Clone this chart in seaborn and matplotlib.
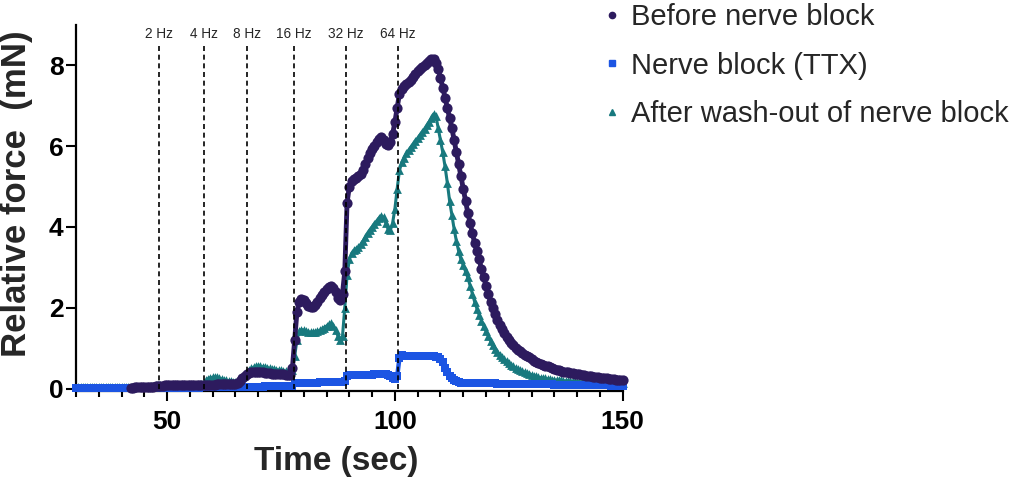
import numpy as np
import matplotlib
matplotlib.use("Agg")
import matplotlib.pyplot as plt
from matplotlib.lines import Line2D
from matplotlib.ticker import MultipleLocator
import seaborn as sns

# ------------------------------------------------------------------
# DATA (0.5 s sampling)
# ------------------------------------------------------------------
t_before = np.arange(42.0, 150.01, 0.5)
t_ttx = np.arange(30.0, 150.01, 0.5)
t_after = np.arange(30.0, 150.01, 0.5)

before_block = [
    0.02, 0.02, 0.03, 0.03, 0.03, 0.04,                                # 42
    0.04, 0.04, 0.05, 0.05, 0.05, 0.06, 0.06, 0.07, 0.07, 0.08,        # 45
    0.08, 0.08, 0.08, 0.08, 0.08, 0.08, 0.08, 0.08, 0.08, 0.08,        # 50
    0.08, 0.08, 0.09, 0.09, 0.09, 0.10, 0.10, 0.10, 0.10, 0.10,        # 55
    0.10, 0.10, 0.11, 0.11, 0.11, 0.11, 0.11, 0.11, 0.11, 0.12,        # 60
    0.12, 0.14, 0.18, 0.25, 0.30, 0.35, 0.38, 0.40, 0.41, 0.41,        # 65
    0.41, 0.40, 0.40, 0.39, 0.38, 0.38, 0.37, 0.37, 0.36, 0.36,        # 70
    0.35, 0.35, 0.34, 0.34, 0.33, 0.50, 1.20, 1.90, 2.15, 2.22,        # 75
    2.20, 2.12, 2.05, 2.02, 2.02, 2.08, 2.15, 2.25, 2.32, 2.40,        # 80
    2.47, 2.52, 2.55, 2.50, 2.38, 2.25, 2.20, 2.35, 2.90, 4.60,        # 85
    5.00, 5.15, 5.20, 5.22, 5.25, 5.30, 5.40, 5.55, 5.70, 5.82,        # 90
    5.92, 6.00, 6.10, 6.18, 6.22, 6.15, 6.05, 6.03, 6.10, 6.30,        # 95
    6.60, 6.95, 7.30, 7.42, 7.50, 7.55, 7.60, 7.65, 7.72, 7.78,        # 100
    7.85, 7.90, 7.95, 8.00, 8.05, 8.10, 8.15, 8.17, 8.05, 7.90,        # 105
    7.70, 7.45, 7.20, 6.95, 6.70, 6.45, 6.15, 5.85, 5.55, 5.25,        # 110
    4.95, 4.65, 4.35, 4.10, 3.85, 3.60, 3.40, 3.20, 2.95, 2.75,        # 115
    2.55, 2.35, 2.15, 2.00, 1.85, 1.70, 1.58, 1.47, 1.37, 1.28,        # 120
    1.20, 1.13, 1.07, 1.01, 0.96, 0.92, 0.88, 0.84, 0.80, 0.77,        # 125
    0.72, 0.69, 0.66, 0.63, 0.61, 0.59, 0.57, 0.55, 0.53, 0.51,        # 130
    0.49, 0.47, 0.45, 0.43, 0.42, 0.41, 0.40, 0.39, 0.38, 0.37,        # 135
    0.36, 0.35, 0.34, 0.33, 0.32, 0.31, 0.30, 0.29, 0.28, 0.28,        # 140
    0.27, 0.26, 0.25, 0.25, 0.24, 0.23, 0.23, 0.22, 0.22, 0.21,        # 145
    0.21,                                                              # 150
]

nerve_block = [
    0.02, 0.02, 0.02, 0.02, 0.02, 0.02, 0.02, 0.02, 0.02, 0.02,        # 30
    0.02, 0.02, 0.02, 0.02, 0.02, 0.02, 0.02, 0.02, 0.02, 0.02,        # 35
    0.02, 0.02, 0.02, 0.02, 0.02, 0.02, 0.02, 0.02, 0.02, 0.02,        # 40
    0.02, 0.02, 0.02, 0.02, 0.02, 0.02, 0.02, 0.02, 0.02, 0.02,        # 45
    0.02, 0.02, 0.02, 0.02, 0.02, 0.02, 0.02, 0.02, 0.02, 0.02,        # 50
    0.02, 0.02, 0.02, 0.02, 0.02, 0.03, 0.03, 0.03, 0.03, 0.03,        # 55
    0.03, 0.03, 0.03, 0.03, 0.03, 0.03, 0.03, 0.03, 0.03, 0.03,        # 60
    0.03, 0.04, 0.05, 0.05, 0.05, 0.05, 0.05, 0.05, 0.05, 0.05,        # 65
    0.05, 0.05, 0.05, 0.06, 0.06, 0.06, 0.06, 0.06, 0.06, 0.06,        # 70
    0.06, 0.06, 0.06, 0.06, 0.06, 0.07, 0.13, 0.15, 0.15, 0.15,        # 75
    0.15, 0.15, 0.15, 0.15, 0.15, 0.15, 0.15, 0.16, 0.16, 0.16,        # 80
    0.16, 0.16, 0.16, 0.17, 0.17, 0.17, 0.17, 0.17, 0.19, 0.30,        # 85
    0.33, 0.33, 0.33, 0.33, 0.33, 0.33, 0.34, 0.34, 0.34, 0.34,        # 90
    0.34, 0.35, 0.35, 0.35, 0.35, 0.35, 0.35, 0.34, 0.30, 0.26,        # 95
    0.24, 0.30, 0.76, 0.82, 0.81, 0.80, 0.80, 0.80, 0.80, 0.80,        # 100
    0.80, 0.80, 0.80, 0.80, 0.80, 0.80, 0.80, 0.80, 0.79, 0.78,        # 105
    0.74, 0.65, 0.52, 0.40, 0.31, 0.25, 0.21, 0.18, 0.16, 0.15,        # 110
    0.14, 0.14, 0.13, 0.13, 0.13, 0.13, 0.13, 0.13, 0.13, 0.13,        # 115
    0.13, 0.13, 0.13, 0.13, 0.13, 0.12, 0.12, 0.12, 0.12, 0.12,        # 120
    0.12, 0.12, 0.12, 0.12, 0.12, 0.12, 0.12, 0.12, 0.12, 0.12,        # 125
    0.11, 0.11, 0.11, 0.11, 0.11, 0.11, 0.11, 0.11, 0.11, 0.11,        # 130
    0.10, 0.10, 0.10, 0.10, 0.10, 0.10, 0.10, 0.10, 0.10, 0.10,        # 135
    0.09, 0.09, 0.09, 0.09, 0.09, 0.09, 0.09, 0.09, 0.09, 0.09,        # 140
    0.08, 0.08, 0.08, 0.08, 0.08, 0.07, 0.07, 0.07, 0.07, 0.07,        # 145
    0.07,                                                              # 150
]

after_washout = [
    0.03, 0.03, 0.03, 0.03, 0.03, 0.03, 0.03, 0.03, 0.03, 0.03,        # 30
    0.03, 0.03, 0.03, 0.03, 0.03, 0.03, 0.03, 0.03, 0.03, 0.03,        # 35
    0.04, 0.04, 0.04, 0.04, 0.04, 0.04, 0.04, 0.04, 0.04, 0.04,        # 40
    0.05, 0.05, 0.05, 0.06, 0.07, 0.08, 0.09, 0.09, 0.10, 0.10,        # 45
    0.10, 0.10, 0.10, 0.10, 0.10, 0.10, 0.10, 0.10, 0.10, 0.10,        # 50
    0.10, 0.10, 0.10, 0.10, 0.10, 0.11, 0.15, 0.20, 0.24, 0.27,        # 55
    0.28, 0.29, 0.28, 0.26, 0.24, 0.22, 0.20, 0.19, 0.18, 0.17,        # 60
    0.16, 0.16, 0.20, 0.28, 0.35, 0.42, 0.47, 0.50, 0.53, 0.55,        # 65
    0.56, 0.55, 0.54, 0.53, 0.52, 0.50, 0.49, 0.48, 0.47, 0.46,        # 70
    0.45, 0.44, 0.43, 0.43, 0.43, 0.46, 0.80, 1.20, 1.42, 1.46,        # 75
    1.45, 1.42, 1.40, 1.40, 1.40, 1.41, 1.42, 1.44, 1.47, 1.51,        # 80
    1.55, 1.59, 1.62, 1.55, 1.45, 1.30, 1.20, 1.30, 2.00, 2.80,        # 85
    3.20, 3.35, 3.42, 3.46, 3.50, 3.57, 3.65, 3.75, 3.85, 3.93,        # 90
    4.00, 4.08, 4.15, 4.22, 4.28, 4.24, 4.10, 3.95, 3.92, 4.10,        # 95
    4.45, 4.95, 5.40, 5.60, 5.72, 5.82, 5.90, 5.98, 6.05, 6.13,        # 100
    6.20, 6.28, 6.35, 6.43, 6.52, 6.60, 6.70, 6.80, 6.75, 6.45,        # 105
    6.15, 5.85, 5.50, 5.10, 4.65, 4.30, 3.95, 3.65, 3.40, 3.20,        # 110
    3.05, 2.90, 2.75, 2.55, 2.35, 2.15, 1.98, 1.82, 1.68, 1.55,        # 115
    1.42, 1.30, 1.18, 1.08, 0.99, 0.91, 0.84, 0.78, 0.73, 0.68,        # 120
    0.63, 0.59, 0.55, 0.51, 0.48, 0.45, 0.43, 0.41, 0.39, 0.37,        # 125
    0.34, 0.32, 0.30, 0.28, 0.27, 0.26, 0.25, 0.24, 0.23, 0.22,        # 130
    0.21, 0.21, 0.20, 0.20, 0.19, 0.19, 0.18, 0.18, 0.18, 0.17,        # 135
    0.17, 0.17, 0.16, 0.16, 0.16, 0.16, 0.15, 0.15, 0.15, 0.15,        # 140
    0.15, 0.14, 0.14, 0.14, 0.14, 0.14, 0.14, 0.13, 0.13, 0.13,        # 145
    0.13,                                                              # 150
]

# stimulation onsets (sec) and frequencies
stim_times = [48.2, 58.1, 67.6, 77.9, 89.2, 100.7]
stim_labels = ['2 Hz', '4 Hz', '8 Hz', '16 Hz', '32 Hz', '64 Hz']

series_names = ['Before nerve block', 'Nerve block (TTX)', 'After wash-out of nerve block']
colors = ['#2d1b5e', '#1c55e3', '#18797e']

# ------------------------------------------------------------------
# PLOT
# ------------------------------------------------------------------
sns.set_style('ticks')
plt.rcParams['font.family'] = ['Liberation Sans', 'DejaVu Sans']

fig = plt.figure(figsize=(10.21, 4.82), dpi=100)
ax = fig.add_axes([0.0744, 0.1888, 0.5355, 0.7593])

# trazo fino bajo los marcadores para que la banda quede continua
series = [
    (t_after, after_washout, '^', 40, 2.2, 2),
    (t_ttx, nerve_block, 's', 40, 3.2, 3),
    (t_before, before_block, 'o', 54, 3.5, 4),
]
for i, (tt, yy, mk, size, lw, z) in zip([2, 1, 0], series):
    sns.lineplot(x=tt, y=yy, color=colors[i], linewidth=lw, ax=ax,
                 clip_on=False, zorder=z, legend=False)
    sns.scatterplot(x=tt, y=yy, marker=mk, s=size, color=colors[i],
                    linewidth=0, ax=ax, clip_on=False, zorder=z, legend=False)

ax.vlines(stim_times, 0, 8.5, colors='black', linestyles=(0, (3, 2.2)),
          linewidth=1.2, zorder=6)
for xt, lab in zip(stim_times, stim_labels):
    ax.text(xt, 8.78, lab, ha='center', va='center', fontsize=9.8)

ax.set_xlim(30, 150)
ax.set_ylim(-0.06, 9)
ax.set_xticks([50, 100, 150])
ax.xaxis.set_minor_locator(MultipleLocator(5))
ax.set_yticks([0, 2, 4, 6, 8])
sns.despine(ax=ax)
for sp in ['left', 'bottom']:
    ax.spines[sp].set_linewidth(1.6)
    ax.spines[sp].set_color('black')

ax.tick_params(axis='both', which='major', length=7, width=1.5, colors='black',
               labelsize=19, direction='out')
ax.tick_params(axis='x', which='major', pad=7)
ax.tick_params(axis='y', which='major', pad=2)
ax.tick_params(axis='x', which='minor', length=4, width=1.5, color='black')
for lab in ax.get_xticklabels() + ax.get_yticklabels():
    lab.set_fontweight('bold')

ax.set_xlabel('Time (sec)', fontsize=24, fontweight='bold')
ax.set_ylabel('Relative force  (mN)', fontsize=25, fontweight='bold')
ax.xaxis.set_label_coords(0.476, -0.15)
ax.yaxis.set_label_coords(-0.078, 0.54)

handles = [
    Line2D([], [], ls='', marker='o', markersize=4.5, color=colors[0]),
    Line2D([], [], ls='', marker='s', markersize=4.5, color=colors[1]),
    Line2D([], [], ls='', marker='^', markersize=5, color=colors[2]),
]
fig.legend(handles, series_names, loc='upper left', bbox_to_anchor=(0.591, 0.994),
           frameon=False, fontsize=21, handlelength=0.6, handletextpad=0.35,
           labelspacing=0.71, borderpad=0, borderaxespad=0)

fig.savefig('out.png', dpi=100)
